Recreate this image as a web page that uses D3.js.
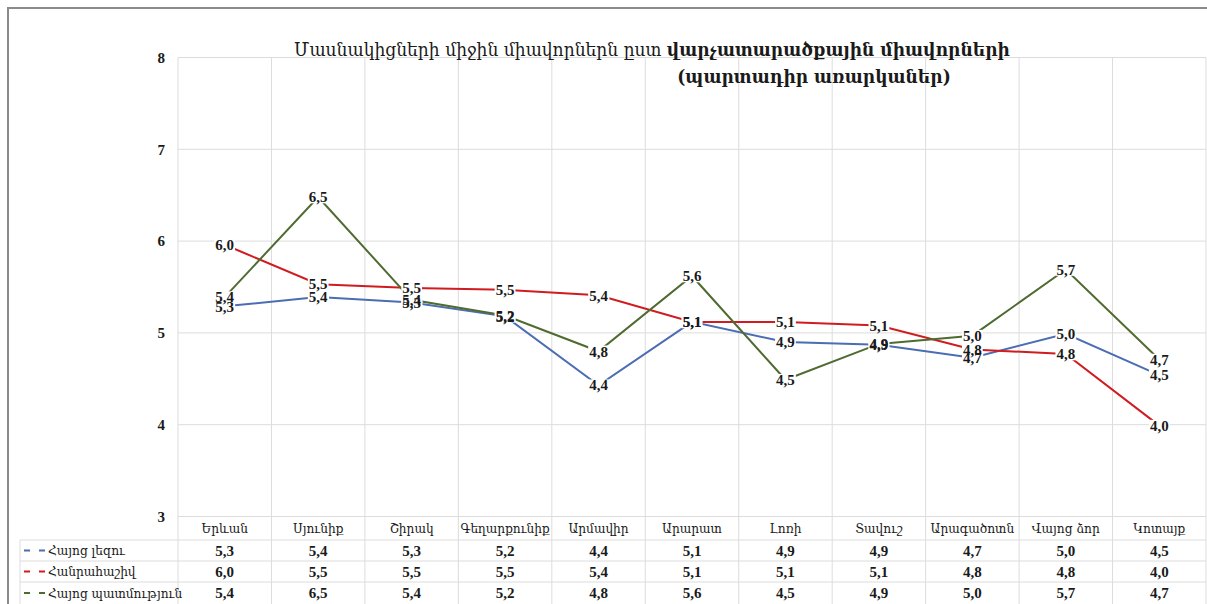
<!DOCTYPE html>
<html>
<head>
<meta charset="utf-8">
<script src="https://cdn.jsdelivr.net/npm/d3@7"></script>
<style>
  body { margin: 0; background: #fff; }
  svg { display: block; }
  .arm { font-family: "DejaVu Serif Condensed", "DejaVu Serif", serif; }
  .num { font-family: "Liberation Serif", "DejaVu Serif", serif; font-weight: bold; }
</style>
</head>
<body>
<svg width="1207" height="604"></svg>
<script>
// categories (regions)
var categories = ["Երևան", "Սյունիք", "Շիրակ", "Գեղարքունիք", "Արմավիր", "Արարատ",
  "Լոռի", "Տավուշ", "Արագածոտն", "Վայոց ձոր", "Կոտայք"];

// series values
var armenianLang = [5.29, 5.39, 5.33, 5.18, 4.43, 5.12, 4.90, 4.87, 4.73, 4.99, 4.54];
var algebra      = [5.96, 5.53, 5.49, 5.47, 5.41, 5.12, 5.12, 5.08, 4.82, 4.77, 3.99];
var armenianHist = [5.39, 6.48, 5.36, 5.19, 4.80, 5.62, 4.49, 4.88, 4.97, 5.69, 4.71];

var seriesNames = ["Հայոց լեզու", "Հանրահաշիվ", "Հայոց պատմություն"];
var yTicks = [3, 4, 5, 6, 7, 8];

var titleLine1a = "Մասնակիցների միջին միավորներն ըստ ";
var titleLine1b = "վարչատարածքային միավորների";
var titleLine2 = "(պարտադիր առարկաներ)";

var series = [
  { name: seriesNames[0], values: armenianLang, color: "#4a6db3" },
  { name: seriesNames[1], values: algebra, color: "#d01c1f" },
  { name: seriesNames[2], values: armenianHist, color: "#4f6b30" }
];

var svg = d3.select("svg");
var W = 1207, H = 604;
var plot = { left: 178, right: 1206, top: 57.5, bottom: 516.5 };
var tableLeft = 20;
var rowLines = [540, 561, 582];

var fmt = function(v) { return d3.format(".1f")(v).replace(".", ","); };

var x = d3.scaleBand().domain(categories).range([plot.left, plot.right]);
var y = d3.scaleLinear().domain([3, 8]).range([plot.bottom, plot.top]);
var cx = function(c) { return x(c) + x.bandwidth() / 2; };

// outer frame
svg.append("path")
  .attr("d", "M8," + H + "V8H" + W)
  .attr("fill", "none")
  .attr("stroke", "#8a8a8a")
  .attr("stroke-width", 2);

// horizontal gridlines
svg.append("g").selectAll("line")
  .data(yTicks)
  .enter().append("line")
  .attr("x1", plot.left).attr("x2", plot.right)
  .attr("y1", function(d) { return y(d); })
  .attr("y2", function(d) { return y(d); })
  .attr("stroke", "#dcdcdc").attr("stroke-width", 1);

// vertical gridlines (run down through the data table)
var vx = categories.map(function(c) { return x(c); }).concat([plot.right]);
svg.append("g").selectAll("line")
  .data(vx)
  .enter().append("line")
  .attr("x1", function(d) { return d; }).attr("x2", function(d) { return d; })
  .attr("y1", plot.top).attr("y2", H)
  .attr("stroke", "#dcdcdc").attr("stroke-width", 1);

// table row lines
svg.append("g").selectAll("line")
  .data(rowLines)
  .enter().append("line")
  .attr("x1", tableLeft).attr("x2", plot.right)
  .attr("y1", function(d) { return d; }).attr("y2", function(d) { return d; })
  .attr("stroke", "#dcdcdc");
svg.append("line")
  .attr("x1", tableLeft).attr("x2", tableLeft)
  .attr("y1", rowLines[0]).attr("y2", H)
  .attr("stroke", "#dcdcdc");

// y axis
var yAxis = svg.append("g")
  .attr("transform", "translate(" + plot.left + ",0)")
  .call(d3.axisLeft(y).tickValues(yTicks).tickFormat(d3.format("d")).tickSize(0).tickPadding(13));
yAxis.select(".domain").remove();
yAxis.selectAll("text")
  .attr("class", "num")
  .style("font-size", "15px")
  .attr("fill", "#1a1a1a");

// title
var title = svg.append("text")
  .attr("class", "arm")
  .attr("x", 652).attr("y", 56)
  .attr("text-anchor", "middle")
  .attr("fill", "#1a1a1a")
  .style("font-size", "19px");
title.append("tspan").text(titleLine1a);
title.append("tspan").attr("font-weight", "bold").text(titleLine1b);
svg.append("text")
  .attr("class", "arm")
  .attr("x", 814).attr("y", 83)
  .attr("text-anchor", "middle")
  .attr("font-weight", "bold")
  .attr("fill", "#1a1a1a")
  .style("font-size", "19px")
  .text(titleLine2);

// lines
var line = d3.line()
  .x(function(d, i) { return cx(categories[i]); })
  .y(function(d) { return y(d); });

svg.append("g").selectAll("path")
  .data(series)
  .enter().append("path")
  .attr("d", function(s) { return line(s.values); })
  .attr("fill", "none")
  .attr("stroke", function(s) { return s.color; })
  .attr("stroke-width", 2);

// data labels: white boxes first, then the texts on top
var boxLayer = svg.append("g");
var labelLayer = svg.append("g");
series.forEach(function(s) {
  labelLayer.append("g").selectAll("text")
    .data(s.values)
    .enter().append("text")
    .attr("class", "num")
    .attr("x", function(d, i) { return cx(categories[i]); })
    .attr("y", function(d) { return y(d); })
    .attr("dy", "0.35em")
    .attr("text-anchor", "middle")
    .style("font-size", "15px")
    .attr("fill", "#1a1a1a")
    .text(function(d) { return fmt(d); });
});
labelLayer.selectAll("text").each(function() {
  var b = this.getBBox();
  boxLayer.append("rect")
    .attr("x", b.x - 1).attr("y", b.y + 2)
    .attr("width", b.width + 2).attr("height", b.height - 4)
    .attr("fill", "#fff");
});

// table header: category names
svg.append("g").selectAll("text")
  .data(categories)
  .enter().append("text")
  .attr("class", "arm")
  .attr("x", cx)
  .attr("y", 528)
  .attr("dy", "0.35em")
  .attr("text-anchor", "middle")
  .style("font-size", "13.5px")
  .attr("fill", "#1a1a1a")
  .text(function(d) { return d; });

// table rows
var rowCenters = [550.5, 571.5, 593];
series.forEach(function(s, r) {
  var g = svg.append("g");
  g.append("line")
    .attr("x1", 24).attr("x2", 46)
    .attr("y1", rowCenters[r]).attr("y2", rowCenters[r])
    .attr("stroke", s.color).attr("stroke-width", 2)
    .attr("stroke-dasharray", "6,9");
  g.append("text")
    .attr("class", "arm")
    .attr("x", 48).attr("y", rowCenters[r])
    .attr("dy", "0.35em")
    .style("font-size", "13.5px")
    .attr("fill", "#1a1a1a")
    .text(s.name);
  g.selectAll("text.v")
    .data(s.values)
    .enter().append("text")
    .attr("class", "num v")
    .attr("x", function(d, i) { return cx(categories[i]); })
    .attr("y", rowCenters[r])
    .attr("dy", "0.35em")
    .attr("text-anchor", "middle")
    .style("font-size", "15px")
    .attr("fill", "#1a1a1a")
    .text(function(d) { return fmt(d); });
});
</script>
</body>
</html>
